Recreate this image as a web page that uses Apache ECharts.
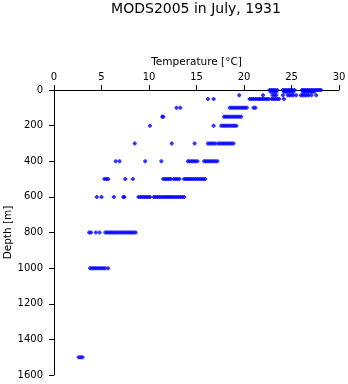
<!DOCTYPE html>
<html>
<head>
<meta charset="utf-8">
<script src="https://cdn.jsdelivr.net/npm/echarts@6/dist/echarts.min.js"></script>
<style>
  html, body { margin: 0; padding: 0; background: #ffffff; }
  #chart { width: 348px; height: 384px; }
</style>
</head>
<body>
<div id="chart"></div>
<script>
// Axis ticks
const tempTicks = [0, 5, 10, 15, 20, 25, 30];
const depthTicks = [0, 200, 400, 600, 800, 1000, 1200, 1400, 1600];

// Observed temperatures (°C) at each standard depth (m)
const depths = [0, 10, 30, 50, 100, 150, 200, 300, 400, 500, 600, 800, 1000, 1500];
const t0 = [22.7, 22.9, 23.1, 23.3, 23.5, 24.1, 24.3, 24.5, 24.7, 24.9, 25.1, 25.3, 26.1, 26.3, 26.5, 26.7, 26.9, 27.1, 27.3, 27.5, 27.7, 27.9, 28.1];
const t10 = [22.8, 23.0, 23.2, 23.4, 24.2, 24.4, 24.6, 24.8, 25.0, 25.2, 26.2, 26.4, 26.6, 26.8, 27.0, 27.2, 27.4];
const t30 = [19.5, 22.0, 23.0, 23.2, 23.4, 24.1, 24.6, 24.8, 25.0, 25.2, 25.5, 26.0, 26.2, 26.4, 26.6, 26.8, 27.1, 27.6];
const t50 = [16.2, 16.8, 20.6, 20.8, 21.0, 21.2, 21.4, 21.6, 21.8, 22.0, 22.2, 22.4, 22.6, 22.9, 23.1, 23.3, 23.5, 23.7, 24.2];
const t100 = [12.9, 13.3, 18.5, 18.7, 18.9, 19.1, 19.3, 19.5, 19.7, 19.9, 20.1, 20.3, 21.0, 21.2];
const t150 = [11.4, 11.5, 17.9, 18.1, 18.3, 18.5, 18.7, 18.9, 19.1, 19.3, 19.5, 19.7];
const t200 = [10.1, 16.8, 17.6, 17.8, 18.0, 18.2, 18.4, 18.6, 18.8, 19.0, 19.2];
const t300 = [8.5, 12.4, 14.8, 16.2, 16.4, 16.6, 16.8, 17.0, 17.3, 17.5, 17.7, 17.9, 18.1, 18.3, 18.5, 18.7, 18.9];
const t400 = [6.5, 6.9, 9.6, 11.3, 14.1, 14.3, 14.5, 14.7, 14.9, 15.1, 15.8, 16.0, 16.2, 16.4, 16.6, 16.8, 17.0, 17.2];
const t500 = [5.3, 5.5, 5.7, 7.5, 8.3, 11.5, 11.7, 11.9, 12.1, 12.3, 12.6, 12.8, 13.0, 13.2, 13.7, 13.9, 14.1, 14.3, 14.5, 14.7, 14.9, 15.1, 15.3, 15.5, 15.7, 15.9];
const t600 = [4.5, 5.0, 6.3, 7.3, 7.4, 8.9, 9.1, 9.3, 9.5, 9.7, 9.9, 10.1, 10.5, 10.7, 10.9, 11.1, 11.3, 11.5, 11.7, 11.9, 12.1, 12.3, 12.5, 12.7, 12.9, 13.1, 13.3, 13.5, 13.7];
const t800 = [3.7, 3.9, 4.4, 4.8, 5.4, 5.6, 5.8, 6.0, 6.2, 6.4, 6.6, 6.8, 7.0, 7.2, 7.4, 7.6, 7.8, 8.0, 8.2, 8.4, 8.6];
const t1000 = [3.8, 4.0, 4.2, 4.4, 4.6, 4.8, 5.0, 5.2, 5.4, 5.7];
const t1500 = [2.6, 2.8, 3.0];

const tempsByDepth = [t0, t10, t30, t50, t100, t150, t200, t300, t400, t500, t600, t800, t1000, t1500];

const points = [];
depths.forEach((d, i) => {
  tempsByDepth[i].forEach(t => points.push([t, d]));
});

const FONT = 'DejaVu Sans';
const chart = echarts.init(document.getElementById('chart'), null, { renderer: 'canvas' });

chart.setOption({
  animation: false,
  backgroundColor: '#ffffff',
  title: {
    text: 'MODS2005 in July, 1931',
    left: 196,
    textAlign: 'center',
    top: 2,
    padding: 0,
    textStyle: { fontFamily: FONT, fontSize: 14, fontWeight: 'normal', color: '#000' }
  },
  grid: { left: 54, right: 9, top: 90, bottom: 9, outerBoundsMode: 'none', containLabel: false },
  xAxis: {
    type: 'value',
    position: 'top',
    min: tempTicks[0],
    max: tempTicks[tempTicks.length - 1],
    interval: 5,
    name: 'Temperature [°C]',
    nameLocation: 'middle',
    nameMoveOverlap: false,
    nameGap: 22,
    nameTextStyle: { fontFamily: FONT, fontSize: 10.5, color: '#000' },
    axisLine: { show: true, lineStyle: { color: '#000', width: 1 } },
    axisTick: { show: true, inside: false, length: 5, lineStyle: { color: '#000' } },
    axisLabel: { margin: 8, fontFamily: FONT, fontSize: 10, color: '#000' },
    splitLine: { show: false }
  },
  yAxis: {
    type: 'value',
    inverse: true,
    min: depthTicks[0],
    max: depthTicks[depthTicks.length - 1],
    interval: 200,
    name: 'Depth [m]',
    nameLocation: 'middle',
    nameMoveOverlap: false,
    nameGap: 40,
    nameTextStyle: { fontFamily: FONT, fontSize: 10.5, color: '#000' },
    axisLine: { show: true, lineStyle: { color: '#000', width: 1 } },
    axisTick: { show: true, inside: false, length: 5, lineStyle: { color: '#000' } },
    axisLabel: { margin: 11, fontFamily: FONT, fontSize: 10, color: '#000', formatter: v => String(v) },
    splitLine: { show: false }
  },
  series: [{
    type: 'scatter',
    data: points,
    symbol: 'path://M1,0H3V1H4V3H3V4H1V3H0V1H1Z',
    symbolSize: 4,
    itemStyle: { color: '#0000ff' },
    emphasis: { disabled: true }
  }]
});
</script>
</body>
</html>
